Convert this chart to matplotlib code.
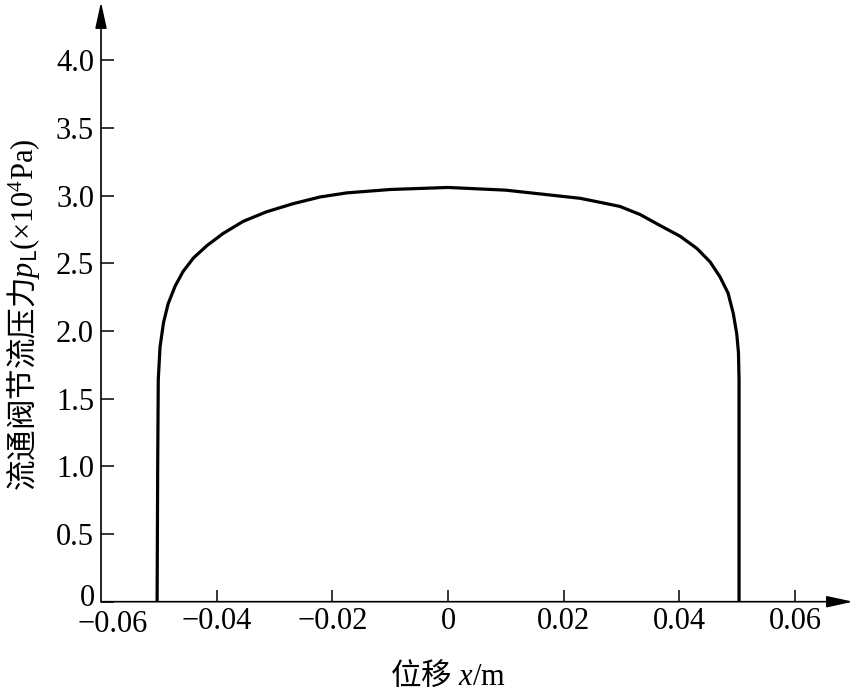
import matplotlib
matplotlib.use("Agg")
import matplotlib.pyplot as plt

# displacement x (m) and throttle pressure p_L (x10^4 Pa)
x_disp = [-0.0503, -0.0502, -0.0501, -0.0498, -0.0492, -0.0484, -0.0472, -0.0458,
          -0.0440, -0.0417, -0.0389, -0.0354, -0.0314, -0.0268, -0.0221, -0.0175,
          -0.0100, 0.0, 0.0100, 0.0228, 0.0263, 0.0297, 0.0332, 0.0366, 0.0401,
          0.0430, 0.0453, 0.0470, 0.0484, 0.0493, 0.0499, 0.0502, 0.0503, 0.0503,
          0.0503]
p_load = [0.0, 1.00, 1.64, 1.88, 2.06, 2.20, 2.33, 2.44,
          2.54, 2.63, 2.72, 2.81, 2.88, 2.94, 2.99, 3.02,
          3.045, 3.06, 3.04, 2.98, 2.95, 2.92, 2.86, 2.78, 2.70,
          2.61, 2.51, 2.40, 2.28, 2.13, 1.98, 1.84, 1.64, 1.00,
          0.0]

x_ticks = [-0.06, -0.04, -0.02, 0, 0.02, 0.04, 0.06]
x_labels = ["\u22120.06", "\u22120.04", "\u22120.02", "0", "0.02", "0.04", "0.06"]
y_ticks = [0, 0.5, 1.0, 1.5, 2.0, 2.5, 3.0, 3.5, 4.0]
y_labels = ["0", "0.5", "1.0", "1.5", "2.0", "2.5", "3.0", "3.5", "4.0"]

plt.rcParams["font.family"] = ["Liberation Serif", "Noto Sans CJK SC"]
# mathtext does not fall back between families, so map the CJK glyphs to rm
plt.rcParams["mathtext.fontset"] = "custom"
plt.rcParams["mathtext.rm"] = "Noto Sans CJK SC"
plt.rcParams["mathtext.it"] = "Liberation Serif:italic"
plt.rcParams["mathtext.sf"] = "Liberation Serif"

fig = plt.figure(figsize=(8.57, 6.91), dpi=100)
ax = fig.add_axes([101 / 857, 89.3 / 691, 752 / 857, 599.7 / 691])

ax.plot(x_disp, p_load, color="black", linewidth=2.3,
        solid_joinstyle="round", solid_capstyle="butt")

ax.set_xlim(-0.06, 0.07)
ax.set_ylim(0, 4.43)
for s in ax.spines.values():
    s.set_visible(False)

arrow = dict(arrowstyle="-|>,head_length=1.6,head_width=0.35", mutation_scale=10,
             lw=1.2, color="black", shrinkA=0, shrinkB=0)
ax.annotate("", xy=(1, 0), xytext=(0, 0), xycoords="axes fraction", arrowprops=arrow)
ax.annotate("", xy=(0, 1), xytext=(0, 0), xycoords="axes fraction", arrowprops=arrow)

# both zero labels sit at the origin corner, drawn by hand
ax.set_xticks(x_ticks[1:])
ax.set_xticklabels(x_labels[1:])
ax.annotate(x_labels[0], xy=(x_ticks[0], 0), xytext=(8.5, -6), textcoords="offset points",
            ha="center", va="top", fontsize=22, annotation_clip=False)
ax.set_yticks(y_ticks)
ax.set_yticklabels([""] + y_labels[1:])
ax.annotate(y_labels[0], xy=(x_ticks[0], y_ticks[0]), xytext=(-4.3, 2.5),
            textcoords="offset points", ha="right", va="center", fontsize=22,
            annotation_clip=False)
ax.tick_params(direction="in", length=9, width=1.1, labelsize=22, pad=5)
ax.tick_params(axis="x", pad=4)

ax.set_ylabel(r"$\mathrm{流通阀节流压力}p_\mathrm{L}$(×10$^\mathsf{4}$Pa)", fontsize=22)
ax.yaxis.set_label_coords(-0.078, 0.478)
ax.set_xlabel(r"$\mathrm{位移}$ $x$/m", fontsize=22)
ax.xaxis.set_label_coords(0.461, -0.098)

fig.savefig("out.png", dpi=100)
